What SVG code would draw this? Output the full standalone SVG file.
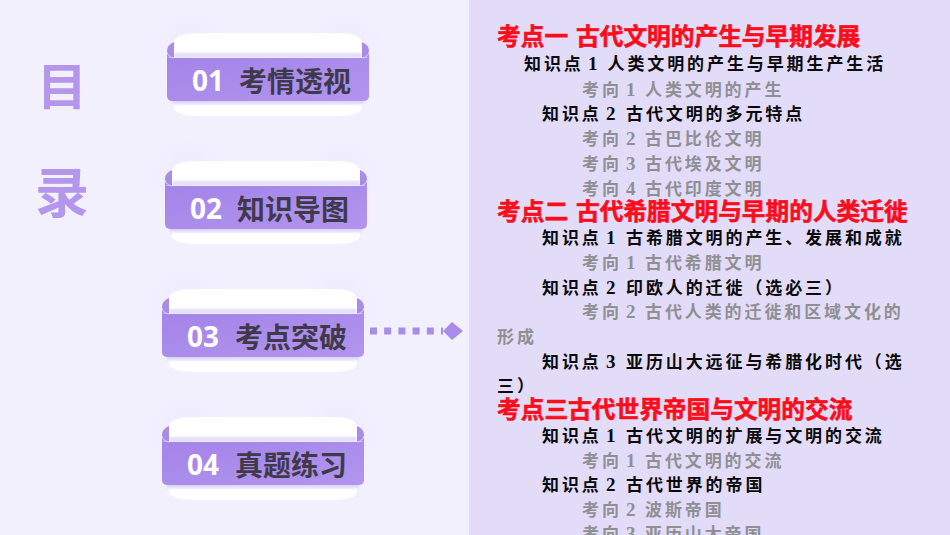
<svg xmlns="http://www.w3.org/2000/svg" xmlns:xlink="http://www.w3.org/1999/xlink" width="950" height="535" viewBox="0 0 950 535">
<style>
text{font-family:"Noto Sans CJK SC","Noto Sans",sans-serif}
.mulu{font-size:50px;font-weight:700;fill:#b497ec}
.num{font-family:"Open Sans","Noto Sans",sans-serif;font-size:28px;font-weight:700;fill:#fff}
.title{font-size:28px;font-weight:700;fill:#40394a}
.h{font-size:23.7px;font-weight:700;fill:#fb0d1b;stroke:#fb0d1b;stroke-width:.6}
.k,.x{font-size:17px;font-weight:700;letter-spacing:2.9px}
.k{fill:#0a0a0a}
.x{fill:#8f8f93}
.d{font-family:"Liberation Serif",serif;font-size:19px}
</style>
<defs>
<linearGradient id="band" x1="0" y1="0" x2="1" y2="1">
<stop offset="0" stop-color="#a484e8"/><stop offset="1" stop-color="#b195ee"/>
</linearGradient>
<filter id="blur" x="-50%" y="-50%" width="200%" height="200%"><feGaussianBlur stdDeviation="8"/></filter>
<filter id="soft" x="-10%" y="-20%" width="120%" height="140%"><feGaussianBlur stdDeviation="1.5"/></filter>
<g id="banner">
<circle cx="24" cy="16" r="32" fill="#ece8fb" opacity=".45" filter="url(#blur)"/>
<circle cx="178" cy="16" r="32" fill="#ece8fb" opacity=".45" filter="url(#blur)"/>
<path d="M7 10Q7 0 32 0H170Q195 0 195 10V40H7Z" fill="#fff"/>
<path d="M7 60H195V74Q195 83 168 83H34Q7 83 7 74Z" fill="#fff"/>
<rect x="7" y="20" width="188" height="5" fill="#e2dbf8" filter="url(#soft)"/>
<rect x="5" y="62" width="192" height="9" fill="#dcd4f7" filter="url(#soft)"/>
<path d="M7 9Q0 12 0 18V25Q2 24 7 25Z" fill="#a88ce6"/>
<path d="M195 9Q202 12 202 18V25Q200 24 195 25Z" fill="#a88ce6"/>
<path d="M0 25H202V63Q202 68 196 68H6Q0 68 0 63Z" fill="url(#band)"/>
<path d="M0 19Q1 24 7 25M202 19Q201 24 195 25" fill="none" stroke="#e8e0fb" stroke-width=".8"/>
</g>
</defs>
<rect width="950" height="535" fill="#f3f0fe"/>
<rect x="469" width="481" height="535" fill="#e3dcf9"/>
<g id="mulu">
<text class="mulu" x="37" y="105">目</text>
<text class="mulu" x="35" y="213" style="font-size:54px">录</text>
</g>
<g id="node-01">
<use xlink:href="#banner" href="#banner" transform="translate(167,33)"/>
<text class="num" x="192" y="91">01</text>
<text class="title" x="239" y="92" textLength="112">考情透视</text>
</g>
<g id="node-02">
<use xlink:href="#banner" href="#banner" transform="translate(165,161)"/>
<text class="num" x="190" y="219">02</text>
<text class="title" x="237" y="220" textLength="112">知识导图</text>
</g>
<g id="node-03">
<use xlink:href="#banner" href="#banner" transform="translate(162,289)"/>
<text class="num" x="187" y="347">03</text>
<text class="title" x="235" y="348" textLength="112">考点突破</text>
</g>
<g id="node-04">
<use xlink:href="#banner" href="#banner" transform="translate(162,417)"/>
<text class="num" x="187" y="475">04</text>
<text class="title" x="235" y="476" textLength="112">真题练习</text>
</g>
<g id="connectors">
<path d="M370 331H443" fill="none" stroke="#a98be9" stroke-width="7" stroke-dasharray="7 7.2"/>
<path d="M443 331L452 322L463 331L452 340Z" fill="#a98be9"/>
</g>
<g id="outline">
<text class="h" x="497" y="45">考点一<tspan x="576">古代文明的产生与早期发展</tspan></text>
<text class="k" x="524" y="70">知识点<tspan class="d" x="588">1</tspan><tspan x="607.5">人类文明的产生与早期生产生活</tspan></text>
<text class="x" x="582" y="96">考向<tspan class="d" x="626">1</tspan><tspan x="645">人类文明的产生</tspan></text>
<text class="k" x="542" y="120">知识点<tspan class="d" x="606">2</tspan><tspan x="626">古代文明的多元特点</tspan></text>
<text class="x" x="582" y="145">考向<tspan class="d" x="626">2</tspan><tspan x="645">古巴比伦文明</tspan></text>
<text class="x" x="582" y="170">考向<tspan class="d" x="626">3</tspan><tspan x="645">古代埃及文明</tspan></text>
<text class="x" x="582" y="195">考向<tspan class="d" x="626">4</tspan><tspan x="645">古代印度文明</tspan></text>
<text class="h" x="497" y="220">考点二<tspan x="576">古代希腊文明与早期的人类迁徙</tspan></text>
<text class="k" x="542" y="244">知识点<tspan class="d" x="606">1</tspan><tspan x="626">古希腊文明的产生、发展和成就</tspan></text>
<text class="x" x="582" y="269">考向<tspan class="d" x="626">1</tspan><tspan x="645">古代希腊文明</tspan></text>
<text class="k" x="542" y="294">知识点<tspan class="d" x="606">2</tspan><tspan x="626">印欧人的迁徙（选必三）</tspan></text>
<text class="x" x="582" y="318">考向<tspan class="d" x="626">2</tspan><tspan x="645">古代人类的迁徙和区域文化的</tspan></text>
<text class="x" x="497" y="343">形成</text>
<text class="k" x="542" y="368">知识点<tspan class="d" x="606">3</tspan><tspan x="626">亚历山大远征与希腊化时代（选</tspan></text>
<text class="k" x="497" y="392">三）</text>
<text class="h" x="497" y="418">考点三古代世界帝国与文明的交流</text>
<text class="k" x="542" y="442">知识点<tspan class="d" x="606">1</tspan><tspan x="626">古代文明的扩展与文明的交流</tspan></text>
<text class="x" x="582" y="467">考向<tspan class="d" x="626">1</tspan><tspan x="645">古代文明的交流</tspan></text>
<text class="k" x="542" y="491">知识点<tspan class="d" x="606">2</tspan><tspan x="626">古代世界的帝国</tspan></text>
<text class="x" x="582" y="516">考向<tspan class="d" x="626">2</tspan><tspan x="645">波斯帝国</tspan></text>
<text class="x" x="582" y="540">考向<tspan class="d" x="626">3</tspan><tspan x="645">亚历山大帝国</tspan></text>
</g>
</svg>
